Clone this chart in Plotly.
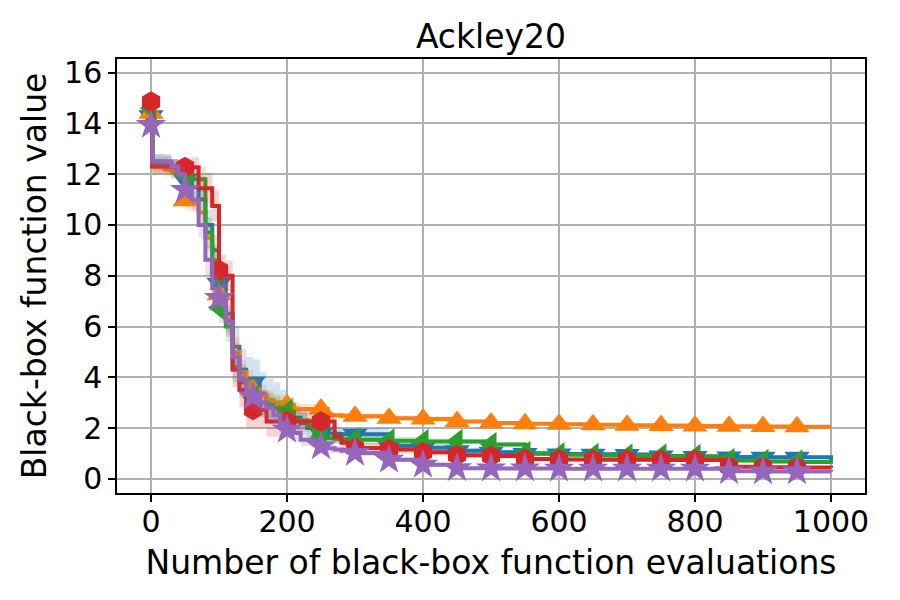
import plotly.graph_objects as go

# evaluation grid (number of black-box function evaluations)
evals = [0, 2, 10, 20, 30, 40, 50, 60, 70, 80, 90, 100, 110, 120, 130, 140, 150,
         160, 170, 180, 190, 200, 210, 220, 230, 240, 250, 260, 270, 280, 290, 300,
         350, 400, 450, 500, 550, 600, 650, 700, 750, 800, 850, 900, 950, 1000]

# mean best-so-far values per method
blue_vals = [14.3, 12.5, 12.5, 12.4, 12.2, 12.0, 11.8, 11.5, 11.0, 10.0, 9.0, 7.7, 6.5, 5.2, 4.3, 3.9, 3.8,
             3.3, 3.05, 3.0, 2.8, 2.6, 2.4, 2.2, 2.0, 1.9, 1.8, 1.78, 1.76, 1.75, 1.75, 1.75,
             1.3, 1.22, 1.1, 1.05, 1.0, 0.98, 0.97, 0.96, 0.9, 0.88, 0.86, 0.85, 0.85, 0.6]
orange_vals = [14.4, 12.3, 12.3, 12.2, 12.1, 12.1, 10.95, 10.9, 10.5, 9.5, 8.3, 7.25, 6.3, 5.0, 4.2, 3.8, 3.5,
               3.3, 3.1, 3.0, 2.98, 2.92, 2.75, 2.75, 2.75, 2.75, 2.75, 2.5, 2.5, 2.48, 2.47, 2.46,
               2.39, 2.36, 2.26, 2.2, 2.17, 2.15, 2.13, 2.11, 2.1, 2.08, 2.07, 2.06, 2.05, 2.05]
green_vals = [14.6, 12.4, 12.4, 12.4, 12.3, 12.2, 12.0, 11.8, 11.8, 9.7, 8.6, 6.75, 6.0, 4.4, 3.8, 3.4, 3.2,
              3.0, 2.9, 2.8, 2.7, 2.65, 2.3, 2.3, 2.1, 1.8, 1.65, 1.6, 1.58, 1.56, 1.55, 1.54,
              1.5, 1.47, 1.47, 1.35, 1.0, 0.95, 0.92, 0.9, 0.9, 0.88, 0.72, 0.68, 0.66, 0.6]
red_vals = [14.86, 12.3, 12.3, 12.3, 12.3, 12.27, 12.27, 12.27, 11.45, 11.45, 10.75, 8.23, 8.0, 4.3, 3.5, 2.72, 2.72,
            2.72, 2.26, 2.26, 2.26, 2.26, 2.26, 2.26, 2.26, 2.26, 2.26, 2.26, 1.67, 1.42, 1.3, 1.21,
            1.15, 1.05, 0.93, 0.9, 0.78, 0.76, 0.75, 0.75, 0.74, 0.74, 0.47, 0.45, 0.44, 0.43]
purple_vals = [13.94, 12.5, 12.5, 12.5, 12.3, 12.0, 11.38, 11.0, 10.0, 8.63, 7.5, 7.12, 6.2, 4.8, 3.9, 3.4, 3.24,
               3.0, 2.8, 2.5, 2.2, 1.93, 1.8, 1.54, 1.54, 1.45, 1.28, 1.2, 1.15, 1.1, 1.05, 1.02,
               0.75, 0.55, 0.42, 0.41, 0.41, 0.40, 0.40, 0.40, 0.40, 0.40, 0.30, 0.29, 0.29, 0.28]

# spread (half-width of the shaded band) per method
blue_spread = [0.1, 0.3, 0.3, 0.35, 0.35, 0.35, 0.4, 0.4, 0.5, 0.6, 0.6, 0.7, 0.7, 0.8, 0.8, 0.9, 0.9,
               0.9, 0.9, 0.8, 0.7, 0.6, 0.5, 0.45, 0.4, 0.35, 0.3, 0.3, 0.3, 0.25, 0.25, 0.25,
               0.2, 0.15, 0.12, 0.1, 0.1, 0.1, 0.1, 0.08, 0.08, 0.08, 0.08, 0.08, 0.08, 0.08]
orange_spread = [0.1, 0.3, 0.3, 0.3, 0.3, 0.3, 0.35, 0.4, 0.5, 0.5, 0.6, 0.6, 0.6, 0.6, 0.5, 0.5, 0.45,
                 0.4, 0.4, 0.35, 0.3, 0.3, 0.25, 0.2, 0.2, 0.2, 0.15, 0.15, 0.12, 0.12, 0.1, 0.1,
                 0.1, 0.1, 0.08, 0.08, 0.08, 0.08, 0.06, 0.06, 0.06, 0.06, 0.06, 0.06, 0.06, 0.06]
green_spread = [0.1, 0.3, 0.3, 0.3, 0.3, 0.3, 0.35, 0.4, 0.5, 0.6, 0.6, 0.6, 0.6, 0.6, 0.6, 0.55, 0.5,
                0.5, 0.5, 0.45, 0.4, 0.4, 0.35, 0.3, 0.3, 0.3, 0.25, 0.25, 0.2, 0.2, 0.2, 0.2,
                0.15, 0.12, 0.1, 0.1, 0.1, 0.1, 0.08, 0.08, 0.08, 0.08, 0.08, 0.08, 0.08, 0.08]
red_spread = [0.1, 0.3, 0.3, 0.3, 0.3, 0.3, 0.35, 0.4, 0.5, 0.6, 0.6, 0.6, 0.6, 0.7, 0.7, 0.7, 0.7,
              0.7, 0.6, 0.6, 0.55, 0.5, 0.45, 0.4, 0.35, 0.3, 0.3, 0.3, 0.25, 0.2, 0.2, 0.2,
              0.15, 0.12, 0.1, 0.1, 0.1, 0.08, 0.08, 0.08, 0.08, 0.08, 0.06, 0.06, 0.06, 0.06]
purple_spread = [0.1, 0.3, 0.3, 0.3, 0.3, 0.3, 0.35, 0.4, 0.5, 0.6, 0.6, 0.6, 0.6, 0.6, 0.6, 0.55, 0.5,
                 0.5, 0.45, 0.4, 0.35, 0.3, 0.3, 0.25, 0.25, 0.2, 0.2, 0.18, 0.15, 0.15, 0.12, 0.12,
                 0.1, 0.08, 0.08, 0.06, 0.06, 0.06, 0.06, 0.06, 0.06, 0.06, 0.05, 0.05, 0.05, 0.05]

marker_step = 50
x_ticks = [0, 200, 400, 600, 800, 1000]
y_ticks = [0, 2, 4, 6, 8, 10, 12, 14, 16]

series = [
    ("#1f77b4", "rgba(31,119,180,0.2)", "triangle-down", 22, blue_vals, blue_spread),
    ("#ff7f0e", "rgba(255,127,14,0.2)", "triangle-up", 22, orange_vals, orange_spread),
    ("#2ca02c", "rgba(44,160,44,0.2)", "triangle-left", 22, green_vals, green_spread),
    ("#d62728", "rgba(214,39,40,0.2)", "hexagon", 21, red_vals, red_spread),
    ("#9467bd", "rgba(148,103,189,0.2)", "star", 23, purple_vals, purple_spread),
]

fig = go.Figure()
for color, fillc, symbol, msize, vals, spread in series:
    lower = [v - s for v, s in zip(vals, spread)]
    upper = [v + s for v, s in zip(vals, spread)]
    fig.add_trace(go.Scatter(x=evals, y=lower, mode="lines", line=dict(width=0, shape="hv"),
                             showlegend=False, hoverinfo="skip"))
    fig.add_trace(go.Scatter(x=evals, y=upper, mode="lines", line=dict(width=0, shape="hv"),
                             fill="tonexty", fillcolor=fillc, showlegend=False, hoverinfo="skip"))
    fig.add_trace(go.Scatter(x=evals, y=vals, mode="lines", line=dict(color=color, width=4, shape="hv"),
                             showlegend=False))
    mx = [e for e in evals if e % marker_step == 0 and e < evals[-1]]
    my = [v for e, v in zip(evals, vals) if e % marker_step == 0 and e < evals[-1]]
    fig.add_trace(go.Scatter(x=mx, y=my, mode="markers",
                             marker=dict(symbol=symbol, size=msize, color=color, line=dict(width=0)),
                             showlegend=False))

font_family = "DejaVu Sans"
axis_common = dict(showline=True, mirror=True, linecolor="black", linewidth=1.5,
                   ticks="outside", ticklen=7, tickwidth=1.5, tickcolor="black",
                   showgrid=True, gridcolor="#b0b0b0", gridwidth=1.5, zeroline=False,
                   tickfont=dict(family=font_family, size=30, color="black"))

fig.update_layout(
    width=900, height=600,
    margin=dict(l=109, r=43, t=51, b=115),
    plot_bgcolor="white", paper_bgcolor="white",
    title=dict(text="Ackley20", x=0.5, xref="paper", y=1 - 39.5 / 600, yref="container",
               yanchor="bottom", xanchor="center",
               font=dict(family=font_family, size=33, color="black")),
    xaxis=dict(range=[-50, 1050], tickvals=x_ticks, ticklabelstandoff=-6,
               title=dict(text="Number of black-box function evaluations", standoff=13,
                          font=dict(family=font_family, size=33, color="black")),
               **axis_common),
    yaxis=dict(range=[-0.56, 16.54], tickvals=y_ticks,
               title=dict(text="Black-box function value", standoff=8,
                          font=dict(family=font_family, size=33, color="black")),
               **axis_common),
)

fig.write_html("out.html")
